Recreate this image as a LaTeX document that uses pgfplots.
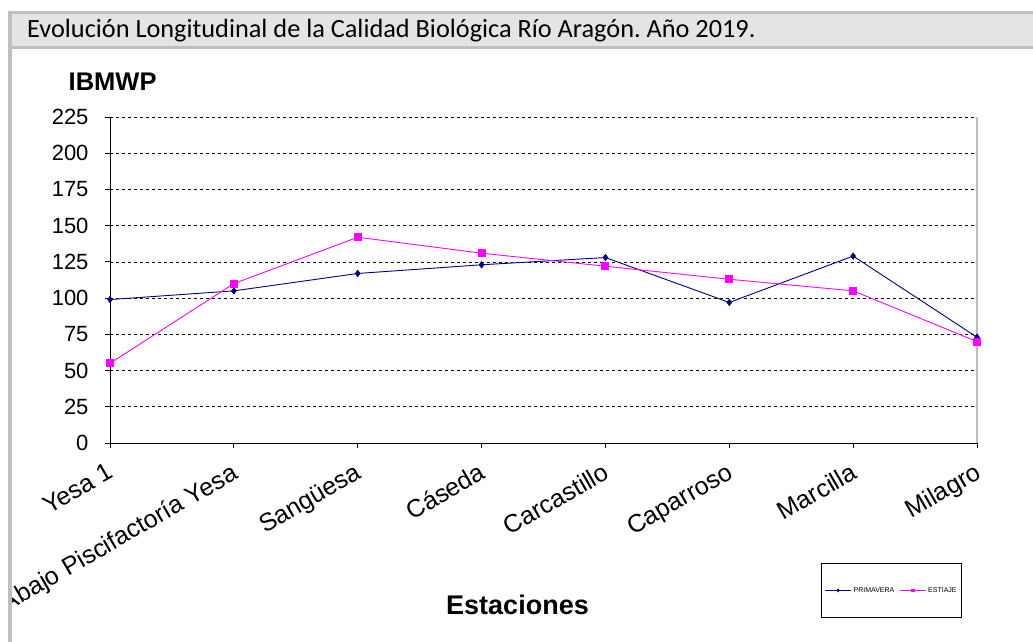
\documentclass[border=0pt]{standalone}
\usepackage{pgfplots}
\pgfplotsset{compat=1.18}
\usepackage{fontspec}
\setmainfont{Liberation Sans}
\newfontfamily\calibri{Carlito}
\definecolor{framegray}{HTML}{BFBFBF}
\definecolor{barfill}{HTML}{E4E4E4}
\definecolor{prim}{HTML}{000080}
\definecolor{esti}{HTML}{FF00FF}
\begin{document}
\frenchspacing
\begin{tikzpicture}[x=1bp,y=1bp]
\useasboundingbox (0,0) rectangle (1033,642);
\fill[white] (0,0) rectangle (1033,642);
% title bar
\fill[framegray] (8,593) rectangle (1033,631);
\fill[barfill] (12,596) rectangle (1033,628);
\node[anchor=base west, inner sep=0pt, font=\calibri\fontsize{26.3bp}{30bp}\selectfont] at (27,604) {Evolución Longitudinal de la Calidad Biológica Río Aragón. Año 2019.};
\begin{axis}[
  at={(110bp,199bp)}, anchor=south west,
  scale only axis, width=867bp, height=326bp,
  xmin=0, xmax=7, ymin=0, ymax=225,
  xtick={0,1,2,3,4,5,6,7},
  xticklabels={Yesa 1, Abajo Piscifactoría Yesa, Sangüesa, Cáseda, Carcastillo, Caparroso, Marcilla, Milagro},
  ytick={0,25,...,225},
  axis x line*=bottom, axis y line*=left,
  axis line style={-, black, line width=0.8bp},
  tick align=outside, major tick length=5bp,
  tick style={black, line width=0.8bp},
  ymajorgrids, grid style={dashed, black, line width=0.6bp},
  /pgf/number format/assume math mode=true,
  yticklabel style={font=\fontsize{22bp}{26bp}\selectfont, xshift=-13bp},
  xticklabel style={font=\fontsize{25bp}{28bp}\selectfont, rotate=30, anchor=north east, inner sep=1bp, yshift=-9bp, xshift=-9bp},
  ylabel={\textbf{IBMWP}},
  ylabel style={rotate=-90, at={(axis description cs:0.003,1.109)}, anchor=center, font=\fontsize{25.5bp}{30bp}\selectfont},
  xlabel={\textbf{Estaciones}},
  xlabel style={at={(axis description cs:0.470,-0.497)}, anchor=center, font=\fontsize{27bp}{30bp}\selectfont},
  clip=false,
  legend columns=2,
  legend style={at={(axis description cs:0.9827,-0.5368)}, anchor=south east, draw=black, line width=0.8bp,
    font=\fontsize{7bp}{8bp}\selectfont, inner xsep=3bp, inner ysep=22bp,
    /tikz/every even column/.append style={column sep=3bp}},
  legend image code/.code={\draw[mark repeat=2,mark phase=2,mark size=1.3bp] plot coordinates {(0bp,0bp) (13bp,0bp) (26bp,0bp)};},
]
\addplot[prim, line width=0.9bp, mark=diamond*, mark size=3bp, mark options={solid, fill=prim}] coordinates {
(0,99) (1,105) (2,117) (3,123) (4,128) (5,97) (6,129) (7,73)};
\addlegendentry{PRIMAVERA}
\addplot[esti, line width=0.9bp, mark=square*, mark size=3.5bp, mark options={solid, fill=esti}] coordinates {
(0,55) (1,110) (2,142) (3,131) (4,122) (5,113) (6,105) (7,70)};
\addlegendentry{ESTIAJE}
\draw[framegray, line width=1.5bp] (rel axis cs:1,0) -- (rel axis cs:1,1);
\end{axis}
% left frame drawn over the clipped label, as in the reference
\fill[white] (0,0) rectangle (8,593);
\fill[framegray] (8,0) rectangle (12,593);
\end{tikzpicture}
\end{document}
